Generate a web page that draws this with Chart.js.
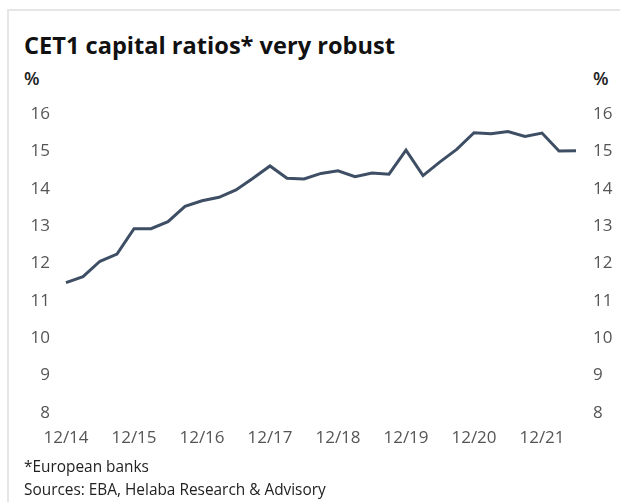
<!DOCTYPE html>
<html>
<head>
<meta charset="utf-8">
<script src="https://cdn.jsdelivr.net/npm/chart.js@4.4.1/dist/chart.umd.min.js"></script>
<style>
  body { margin: 0; background: #fff; font-family: "Open Sans", sans-serif; }
  #wrap { position: relative; width: 620px; height: 502px; overflow: hidden; }
  #frame { position: absolute; left: 7px; top: 9px; right: -10px; bottom: -10px;
           border-left: 2px solid #e6e6e6; border-top: 2px solid #e6e6e6; }
  #title { position: absolute; left: 24px; top: 30px; font-size: 23.6px; font-weight: 700;
           color: #111; line-height: 30px; white-space: nowrap; }
  .unit { position: absolute; top: 66px; font-size: 18px; font-weight: 600; color: #222; line-height: 24px; }
  .note { position: absolute; left: 24px; font-size: 15.4px; color: #222; line-height: 20px; white-space: nowrap; }
  canvas { position: absolute; left: 0; top: 0; }
</style>
</head>
<body>
<div id="wrap">
  <div id="frame"></div>
  <div id="title">CET1 capital ratios* very robust</div>
  <div class="unit" style="left:24px">%</div>
  <div class="unit" style="left:593px">%</div>
  <canvas id="myChart" width="620" height="460"></canvas>
  <div class="note" style="top:457px">*European banks</div>
  <div class="note" style="top:480px">Sources: EBA, Helaba Research &amp; Advisory</div>
</div>
<script>
const quarters = ['12/14', '3/15', '6/15', '9/15', '12/15', '3/16', '6/16', '9/16',
    '12/16', '3/17', '6/17', '9/17', '12/17', '3/18', '6/18', '9/18',
    '12/18', '3/19', '6/19', '9/19', '12/19', '3/20', '6/20', '9/20',
    '12/20', '3/21', '6/21', '9/21', '12/21', '3/22', '6/22'];
const cet1Ratio = [11.49, 11.65, 12.06, 12.25, 12.93, 12.93, 13.12, 13.53,
    13.68, 13.77, 13.97, 14.28, 14.61, 14.28, 14.26, 14.41,
    14.48, 14.32, 14.42, 14.39, 15.03, 14.35, 14.72, 15.06,
    15.50, 15.47, 15.53, 15.40, 15.49, 15.01, 15.02];
const yMin = 8;
const yMax = 16;

const ctx = document.getElementById('myChart');
const tickFont = { family: 'Open Sans', size: 17 };
const tickColor = '#555';

new Chart(ctx, {
    type: 'line',
    data: {
        labels: quarters,
        datasets: [{
            data: cet1Ratio,
            borderColor: '#3e4e64',
            borderWidth: 3,
            pointRadius: 0,
            tension: 0,
            yAxisID: 'y'
        }]
    },
    options: {
        responsive: false,
        animation: false,
        layout: { padding: { top: 114, right: 0, bottom: 0, left: 0 } },
        plugins: { legend: { display: false }, tooltip: { enabled: false } },
        scales: {
            x: {
                offset: false,
                grid: { display: false, drawTicks: false },
                border: { display: false },
                ticks: {
                    autoSkip: false, maxRotation: 0, padding: 15,
                    font: tickFont, color: tickColor,
                    callback: (v, i) => i % 4 === 0 ? quarters[i] : ''
                },
                afterFit: s => { s.height = 47; }
            },
            y: {
                position: 'left', min: yMin, max: yMax,
                grid: { display: false, drawTicks: false },
                border: { display: false },
                ticks: { stepSize: 1, padding: 16, font: tickFont, color: tickColor },
                afterFit: s => { s.width = 66; }
            },
            y2: {
                position: 'right', min: yMin, max: yMax,
                grid: { display: false, drawTicks: false },
                border: { display: false },
                ticks: { stepSize: 1, padding: 17, font: tickFont, color: tickColor },
                afterFit: s => { s.width = 44; }
            }
        }
    }
});
</script>
</body>
</html>
